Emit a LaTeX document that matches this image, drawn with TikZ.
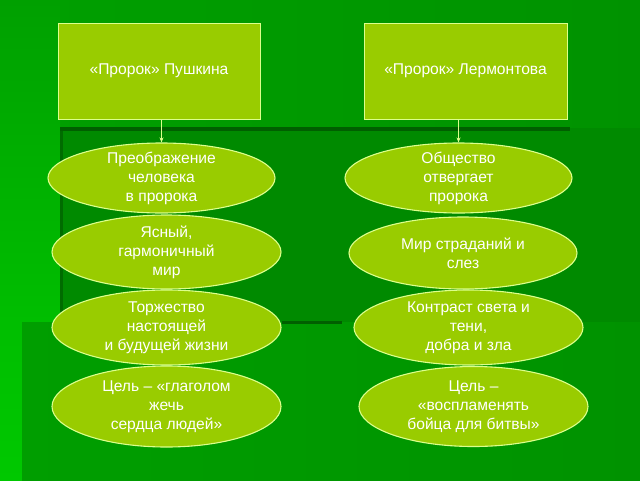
\documentclass[tikz,border=0pt]{standalone}
\usepackage{fontspec}
\setmainfont{Liberation Sans}
\usetikzlibrary{shapes.geometric,arrows.meta}
\definecolor{bgmain}{RGB}{0,146,0}
\definecolor{bgtopl}{RGB}{0,160,0}
\definecolor{bgleft}{RGB}{0,190,0}
\definecolor{bgleftb}{RGB}{0,200,0}
\definecolor{bgmid}{RGB}{0,158,0}
\definecolor{bgdark}{RGB}{0,138,0}
\definecolor{shadowc}{RGB}{0,95,0}
\definecolor{fillc}{RGB}{153,204,0}
\definecolor{edgec}{RGB}{220,255,140}
\tikzset{
  box/.style={draw=edgec, line width=1pt, fill=fillc, minimum width=#1, minimum height=96pt, inner sep=0pt},
  oval/.style={ellipse, draw=edgec, line width=1.1pt, fill=fillc, inner sep=0pt},
  txt/.style={text=white, align=center, font=\fontsize{15.6}{19}\selectfont},
  arr/.style={draw=edgec, line width=0.8pt, -{Stealth[length=5pt,width=4pt]}}
}
\begin{document}
\begin{tikzpicture}[x=1pt,y=-1pt]
\useasboundingbox (0,0) rectangle (640,480);
% background
\shade[left color=bgtopl, right color=bgmain] (0,0) rectangle (640,480);
\shade[top color=bgtopl, bottom color=bgleft] (0,0) rectangle (60,322);
\shade[top color=bgleft, bottom color=bgleftb] (0,322) rectangle (22,480);
\shade[left color=bgmid, right color=bgmain] (22,322) rectangle (640,480);
\fill[bgdark] (60,128) rectangle (640,322);
\fill[shadowc] (60,127) rectangle (570,131);
\fill[shadowc!70!bgdark] (60,131) rectangle (63,322);
\fill[shadowc] (282,321) rectangle (342,324);
% boxes
\node[box=202pt] (b1) at (159,71) {};
\node[txt] (t1) at (b1) {«Пророк» Пушкина};
\node[box=203pt] (b2) at (465.5,71) {};
\node[txt] (t2) at (b2) {«Пророк» Лермонтова};
% left ellipses
\node[oval, minimum width=227pt, minimum height=70pt] (l1) at (161.5,178) {};
\node[oval, minimum width=229pt, minimum height=74pt] (l2) at (166.5,252) {};
\node[oval, minimum width=229pt, minimum height=75pt] (l3) at (166.5,327.5) {};
\node[oval, minimum width=229pt, minimum height=81pt] (l4) at (166.5,406.5) {};
\node[txt] (lt1) at (l1) {Преображение\\человека\\в пророка};
\node[txt] (lt2) at (l2) {Ясный,\\гармоничный\\мир};
\node[txt] (lt3) at (l3) {Торжество\\настоящей\\и будущей жизни};
\node[txt] (lt4) at (l4) {Цель – «глаголом\\жечь\\сердца людей»};
% right ellipses
\node[oval, minimum width=227pt, minimum height=70pt] (r1) at (458.5,178) {};
\node[oval, minimum width=228pt, minimum height=72pt] (r2) at (463,253) {};
\node[oval, minimum width=229pt, minimum height=75pt] (r3) at (468.5,327.5) {};
\node[oval, minimum width=229pt, minimum height=80pt] (r4) at (473.5,406.5) {};
\node[txt] (rt1) at (r1) {Общество\\отвергает\\пророка};
\node[txt] (rt2) at (r2) {Мир страданий и\\слез};
\node[txt] (rt3) at (r3) {Контраст света и\\тени,\\добра и зла};
\node[txt] (rt4) at (r4) {Цель –\\«воспламенять\\бойца для битвы»};
% arrows
\draw[arr] (b1.south -| l1.north) -- (l1.north);
\draw[arr] (b2.south -| r1.north) -- (r1.north);
\end{tikzpicture}
\end{document}
